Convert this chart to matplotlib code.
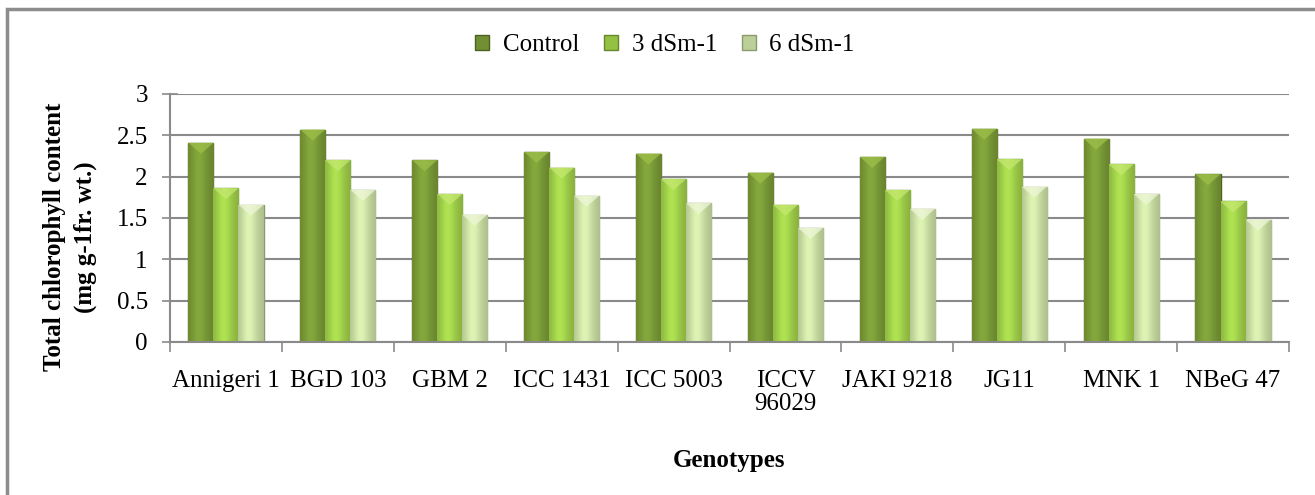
import numpy as np
import matplotlib
matplotlib.use("Agg")
import matplotlib.pyplot as plt
from matplotlib.patches import Patch, Rectangle, Polygon
from matplotlib.colors import to_rgb

plt.rcParams['font.family'] = ['Liberation Serif', 'DejaVu Serif']

# data
genotypes = ['Annigeri 1', 'BGD 103', 'GBM 2', 'ICC 1431', 'ICC 5003',
             'ICCV\n96029', 'JAKI 9218', 'JG11', 'MNK 1', 'NBeG 47']
control = [2.41, 2.57, 2.20, 2.30, 2.28, 2.05, 2.24, 2.58, 2.46, 2.03]
ds3 = [1.86, 2.20, 1.79, 2.11, 1.97, 1.66, 1.84, 2.21, 2.15, 1.70]
ds6 = [1.66, 1.84, 1.54, 1.77, 1.68, 1.38, 1.61, 1.88, 1.79, 1.48]
series_names = ['Control', '3 dSm-1', '6 dSm-1']
series_colors = ['#718f33', '#94c044', '#bccf98']
edge_colors = ['#4d6120', '#66872a', '#8a9a6c']
bevel_colors = ['#9dc04a', '#c4e870', '#eef7d8']

FS = 18


def shade_bar(ax, bar, base, bevel):
    # horizontal gradient: darker at the sides, lighter a bit left of centre
    r, g, b = to_rgb(base)
    t = np.linspace(0, 1, 64)
    light = 1.0 + 0.18 * np.exp(-((t - 0.42) / 0.28) ** 2) - 0.30 * (np.abs(t - 0.45) ** 2.2)
    img = np.zeros((1, len(t), 3))
    img[0, :, 0] = np.clip(r * light, 0, 1)
    img[0, :, 1] = np.clip(g * light, 0, 1)
    img[0, :, 2] = np.clip(b * light, 0, 1)
    x0, w, h = bar.get_x(), bar.get_width(), bar.get_height()
    im = ax.imshow(img, extent=[x0, x0 + w, 0, h], aspect='auto',
                   interpolation='bicubic', zorder=2.5)
    im.set_clip_path(bar)
    # light bevel on the top of the bar
    tip = ax.transData.inverted().transform((0, 0))[1] - ax.transData.inverted().transform((0, 11))[1]
    tri = Polygon([(x0, h), (x0 + w, h), (x0 + w / 2, h + tip)], closed=True,
                  facecolor=bevel, edgecolor='none', alpha=0.75, zorder=2.6)
    ax.add_patch(tri)


fig = plt.figure(figsize=(13.15, 4.95), dpi=100)
ax = fig.add_axes([170 / 1315, 1 - 342 / 495, 1119 / 1315, 248 / 495])
ax.set_xlim(-0.5, len(genotypes) - 0.5)
ax.set_ylim(0, 3)

x = np.arange(len(genotypes))
bw = 0.224
for i, vals in enumerate([control, ds3, ds6]):
    bars = ax.bar(x + (i - 1) * bw, vals, width=bw, color=series_colors[i],
                  edgecolor=edge_colors[i], linewidth=1.0, zorder=2)
    for b in bars:
        shade_bar(ax, b, series_colors[i], bevel_colors[i])

ax.set_xlim(-0.5, len(genotypes) - 0.5)
ax.set_ylim(0, 3)
ax.set_yticks(np.arange(0, 3.01, 0.5))
ax.set_yticklabels(['0', '0.5', '1', '1.5', '2', '2.5', '3'])
ax.yaxis.grid(True, color='#8a8a8a', linewidth=1.5, zorder=0)
ax.set_axisbelow(True)

ax.set_xticks(x)
ax.set_xticklabels(genotypes, fontsize=FS, linespacing=1.05)
ax.set_xticks(np.arange(-0.5, len(genotypes)), minor=True)
ax.tick_params(axis='x', which='major', length=0, pad=20)
ax.tick_params(axis='x', which='minor', length=7, width=1.2, color='#8a8a8a', direction='out')
ax.tick_params(axis='y', length=12, width=1.2, color='#8a8a8a', direction='inout',
               labelsize=FS, pad=10)

for s in ['top', 'right']:
    ax.spines[s].set_visible(False)
for s in ['left', 'bottom']:
    ax.spines[s].set_color('#8a8a8a')
    ax.spines[s].set_linewidth(1.5)

fig.text(729 / 1315, 1 - 461 / 495, 'Genotypes', fontsize=FS, fontweight='bold',
         ha='center', va='center')
fig.text(54 / 1315, 1 - 237 / 495, 'Total chlorophyll content', rotation=90, fontsize=FS,
         fontweight='bold', ha='center', va='center')
fig.text(85 / 1315, 1 - 237 / 495, '(mg g-1fr. wt.)', rotation=90, fontsize=FS,
         fontweight='bold', ha='center', va='center')

handles = [Patch(facecolor=c, edgecolor=e) for c, e in zip(series_colors, edge_colors)]
fig.legend(handles, series_names, loc='center', bbox_to_anchor=(665 / 1315, 1 - 45 / 495),
           ncol=3, frameon=False, fontsize=FS, handlelength=0.55, handleheight=0.55,
           handletextpad=0.55, columnspacing=1.0)

# outer chart frame (right and bottom sides fall outside the picture)
fig.patches.append(Rectangle((7 / 1315, -0.2), 1.2, 1.2 - 9 / 495, transform=fig.transFigure,
                             fill=False, edgecolor='#8c8c8c', linewidth=2.5))

fig.savefig('out.png', dpi=100)
